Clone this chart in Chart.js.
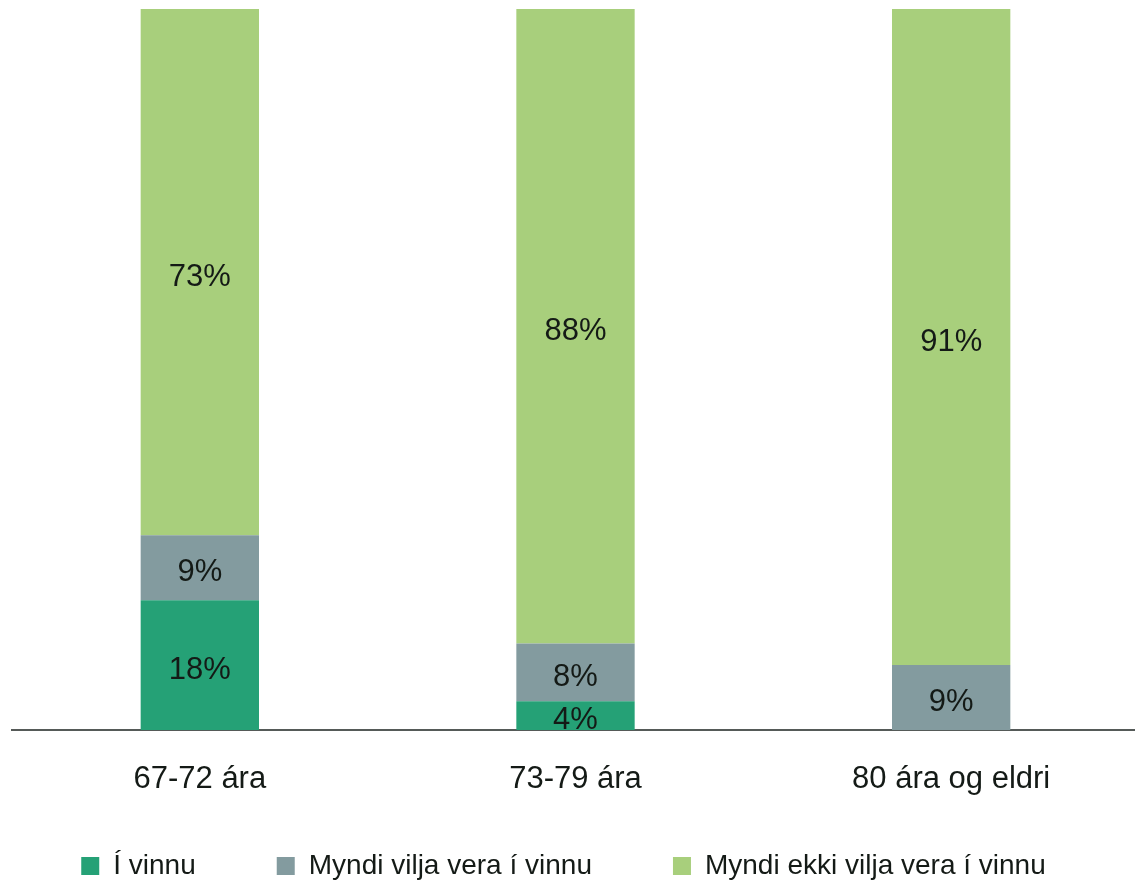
<!DOCTYPE html>
<html>
<head>
<meta charset="utf-8">
<script src="https://cdn.jsdelivr.net/npm/chart.js@4/dist/chart.umd.min.js"></script>
<style>
  html, body { margin: 0; padding: 0; background: #ffffff; overflow: hidden; }
  #wrap { width: 1139px; height: 882px; position: relative; }
</style>
</head>
<body>
<div id="wrap"><canvas id="chart"></canvas></div>
<script>
// Age groups on the x axis
const categories = ['67-72 ára', '73-79 ára', '80 ára og eldri'];

// Shares (%) for each group
const inWork = [18, 4, 0];
const wouldLikeWork = [9, 8, 9];
const wouldNotLikeWork = [73, 88, 91];

const seriesNames = ['Í vinnu', 'Myndi vilja vera í vinnu', 'Myndi ekki vilja vera í vinnu'];
const seriesColors = ['#25a176', '#839b9f', '#a8cf7c'];

const FONT = '"Liberation Sans", Arial, sans-serif';
const TEXT = '#141a16';

// Writes each segment's percentage in the middle of the segment
const segmentLabels = {
  id: 'segmentLabels',
  afterDatasetsDraw(chart) {
    const ctx = chart.ctx;
    ctx.save();
    ctx.font = '31px ' + FONT;
    ctx.fillStyle = TEXT;
    ctx.textAlign = 'center';
    ctx.textBaseline = 'middle';
    chart.data.datasets.forEach((ds, i) => {
      const meta = chart.getDatasetMeta(i);
      meta.data.forEach((bar, j) => {
        const v = ds.data[j];
        if (!v) return;
        const p = bar.getProps(['x', 'y', 'base'], true);
        ctx.fillText(v + '%', p.x, (p.y + p.base) / 2 + 5);
      });
    });
    ctx.restore();
  }
};

// Centres the legend row under the whole canvas instead of the padded area
const legendShift = {
  id: 'legendShift',
  afterLayout(chart) {
    const lg = chart.legend;
    if (!lg) return;
    const shift = chart.options.layout.padding.left;
    lg.left -= shift;
    lg.right -= shift;
  }
};

new Chart(document.getElementById('chart'), {
  type: 'bar',
  data: {
    labels: categories,
    datasets: [
      { label: seriesNames[0], data: inWork, backgroundColor: seriesColors[0] },
      { label: seriesNames[1], data: wouldLikeWork, backgroundColor: seriesColors[1] },
      { label: seriesNames[2], data: wouldNotLikeWork, backgroundColor: seriesColors[2] }
    ]
  },
  options: {
    responsive: true,
    maintainAspectRatio: false,
    animation: false,
    layout: { padding: { top: 9, left: 12, right: 0, bottom: -8 } },
    datasets: {
      bar: { categoryPercentage: 1, barPercentage: 0.315, borderWidth: 0 }
    },
    scales: {
      x: {
        stacked: true,
        z: 1,
        grid: { display: false, drawTicks: false },
        border: { display: true, color: '#555a58', width: 2 },
        ticks: { color: TEXT, font: { family: FONT, size: 31 }, padding: 31 },
        // keep the axis band short so the legend sits close under it,
        // and let the category names spill over its lower edge unclipped
        afterFit(scale) {
          scale.height = 41;
          scale._computeLabelArea = () => undefined;
        }
      },
      y: {
        stacked: true,
        display: false,
        min: 0,
        max: 100
      }
    },
    plugins: {
      legend: {
        position: 'bottom',
        labels: {
          color: TEXT,
          font: { family: FONT, size: 28 },
          boxWidth: 18,
          boxHeight: 18,
          padding: 81
        }
      },
      tooltip: { enabled: false }
    }
  },
  plugins: [segmentLabels, legendShift]
});
</script>
</body>
</html>
